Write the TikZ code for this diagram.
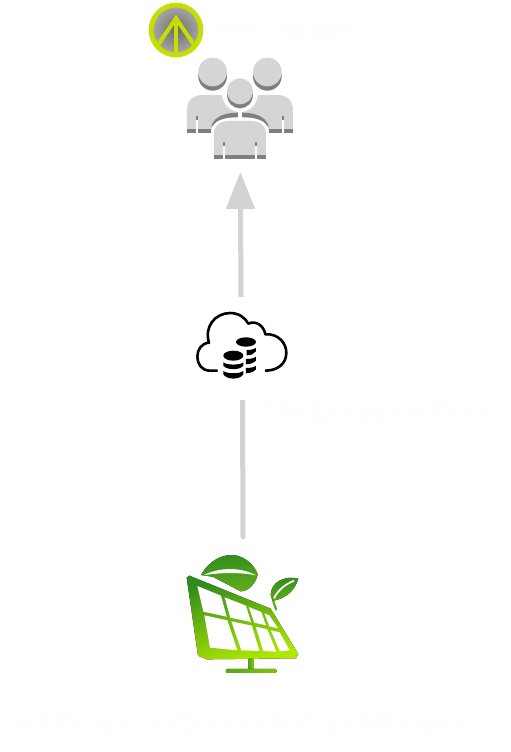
\documentclass[tikz,border=0pt]{standalone}
\usepackage{fontspec}
\setmainfont{Liberation Sans}
\usetikzlibrary{arrows.meta}
\definecolor{conn}{HTML}{D3D3D3}
\definecolor{bodygray}{HTML}{D4D5D5}
\definecolor{shadowgray}{HTML}{7F7F7F}
\definecolor{lime}{HTML}{C6DE00}
\definecolor{faint}{HTML}{FEFEFE}
\definecolor{gdark}{HTML}{2F8A1E}
\definecolor{gmid}{HTML}{5FAE1A}
\definecolor{glime}{HTML}{B0E800}
\tikzset{
  faintlabel/.style={text=faint,font=\fontsize{28.5}{30}\selectfont,anchor=base west,inner sep=0pt},
  connector/.style={conn,line width=5pt},
  iconanchor/.style={inner sep=0pt,minimum size=1pt},
  cell/.style={fill=white},
  panelgreen/.style={left color=gdark,middle color=gmid,right color=glime,shading angle=15},
  leafgreen/.style={left color=gdark,right color=gmid,shading angle=10},
  standgreen/.style={left color=gmid!80!gdark,right color=gmid!60!glime}
}
\begin{document}
\begin{tikzpicture}[x=1pt,y=-1pt]
\useasboundingbox[fill=white] (0,0) rectangle (511,752);
% labels
\node[faintlabel] (holder) at (214,38.5) {AIP Holder};
\node[faintlabel] (donation) at (262,421) {1\% Donation Pool};
\node[faintlabel,font=\fontsize{29.8}{31}\selectfont] (projects) at (14,733) {All Projects Connected to AIPower};
% badge
\begin{scope}[shift={(130,0)},x=0.3333pt,y=-0.3333pt]
\fill[lime] (138,90) circle[radius=82];
\shade[inner color=black!58,outer color=black!36] (138,90) circle[radius=67];
\begin{scope}
\clip (138,90) circle[radius=68];
\draw[lime,line width=4pt,line join=miter] (74,149) -- (138,55) -- (202,149);
\draw[lime,line width=4pt] (138,60) -- (138,160);
\end{scope}
\end{scope}
% people
\begin{scope}[shift={(130,0)},x=0.3333pt,y=-0.3333pt]
\foreach \cx in {248,412}{
  \fill[shadowgray] (\cx,229) circle[radius=43];
  \fill[bodygray] (\cx,216) circle[radius=43];
}
% back bodies
\fill[bodygray] (171,387) -- (171,330) .. controls (171,300) and (190,285) .. (220,285)
  -- (440,285) .. controls (470,285) and (489,300) .. (489,330) -- (489,387) -- cycle;
\fill[shadowgray] (171,387) rectangle (489,398);
\fill[white] (198,348) rectangle (204,398);
\fill[shadowgray] (198,348) rectangle (204,360);
\fill[white] (456,348) rectangle (462,398);
\fill[shadowgray] (456,348) rectangle (462,360);
% ring around centre head
\fill[white] (330,283) circle[radius=53];
\fill[shadowgray] (330,286) circle[radius=39];
\fill[bodygray] (330,274) circle[radius=39];
% crescents
\fill[shadowgray] (245,398) -- (245,375) .. controls (255,350) and (285,338) .. (324,338)
  -- (324,352) -- (336,352) -- (336,338) .. controls (375,338) and (405,350) .. (415,375) -- (415,398) -- cycle;
\fill[white] (324,335) rectangle (336,362);
\fill[white] (240,480) -- (244,385) .. controls (255,362) and (280,352) .. (324,352)
  -- (336,352) .. controls (380,352) and (405,362) .. (416,385) -- (420,480) -- cycle;
% front body
\fill[bodygray] (252,465) -- (252,400) .. controls (252,378) and (270,363) .. (295,363)
  -- (365,363) .. controls (390,363) and (408,378) .. (408,400) -- (408,465) -- cycle;
\fill[shadowgray] (252,465) rectangle (408,476);
\fill[white] (279,427) rectangle (285,476);
\fill[shadowgray] (279,427) rectangle (285,438);
\fill[white] (375,427) rectangle (381,476);
\fill[shadowgray] (375,427) rectangle (381,438);
\end{scope}
% cloud
\begin{scope}[shift={(180,290)},x=0.3333pt,y=-0.3333pt]
\draw[black,line width=2.6pt,line cap=butt,line join=round]
  (113,242) -- (90,242) .. controls (65,242) and (52,222) .. (52,200)
  .. controls (52,178) and (65,160) .. (87,158)
  .. controls (72,110) and (105,70) .. (150,69)
  .. controls (175,69) and (195,82) .. (205,101)
  .. controls (228,90) and (252,108) .. (256,133)
  .. controls (295,130) and (320,160) .. (319,190)
  .. controls (318,220) and (295,242) .. (255,242);
% right stack
\fill[black] (198,156) ellipse[x radius=30,y radius=14];
\fill[black] (200,180) .. controls (212,180) and (222,178) .. (228,174) -- (228,184)
  .. controls (222,192) and (212,196) .. (200,196) -- cycle;
\fill[black] (198,207) .. controls (212,207) and (222,205) .. (228,200) -- (228,211)
  .. controls (222,219) and (212,222) .. (198,223) -- cycle;
\fill[black] (198,234) .. controls (212,234) and (222,232) .. (228,227) -- (228,238)
  .. controls (222,245) and (212,249) .. (198,250) -- cycle;
% left stack
\fill[black] (160,197) ellipse[x radius=30,y radius=15];
\fill[black] (130,217) .. controls (140,226) and (180,226) .. (190,217) -- (190,227)
  .. controls (180,241) and (140,241) .. (130,227) -- cycle;
\fill[black] (130,243) .. controls (140,252) and (180,252) .. (190,243) -- (190,253)
  .. controls (180,270) and (140,270) .. (130,253) -- cycle;
\end{scope}
% solar panel
\begin{scope}[shift={(170,530)},x=0.3333pt,y=-0.3333pt]
% big leaf
\fill[leafgreen] (93,135) .. controls (115,95) and (160,65) .. (205,78)
  .. controls (235,88) and (255,110) .. (263,133)
  .. controls (258,160) and (235,185) .. (212,184)
  -- (128,140) -- cycle;
\fill[white] (100,136) .. controls (150,110) and (215,112) .. (258,136)
  .. controls (215,127) and (150,127) .. (100,136) -- cycle;
% small leaf
\draw[gmid,line width=2.2pt] (319,240) .. controls (314,225) and (308,212) .. (306,195);
\fill[leafgreen] (385,146) .. controls (345,136) and (303,155) .. (302,195)
  -- (310,212) .. controls (350,205) and (375,180) .. (385,146) -- cycle;
\draw[white,line width=1.7pt] (312,205) .. controls (325,178) and (348,162) .. (372,152);
% panel
\fill[panelgreen] (50,143) -- (58,137) -- (302,236) -- (385,372) -- (378,385) -- (110,388) -- (84,377) -- cycle;
\fill[cell] (82,168) -- (153,197) -- (170,260) -- (100,245) -- cycle;
\fill[cell] (164,202) -- (228,227) -- (243,276) -- (181,263) -- cycle;
\fill[cell] (236,231) -- (274,246) -- (288,286) -- (253,278) -- cycle;
\fill[cell] (283,250) -- (298,256) -- (324,295) -- (298,289) -- cycle;
\fill[cell] (103,256) -- (172,271) -- (202,361) -- (120,353) -- cycle;
\fill[cell] (184,274) -- (246,287) -- (268,363) -- (214,361) -- cycle;
\fill[cell] (257,290) -- (292,298) -- (319,365) -- (280,363) -- cycle;
\fill[cell] (302,301) -- (329,307) -- (359,361) -- (330,364) -- cycle;
% stand
\fill[standgreen] (236,385) rectangle (250,418);
\fill[standgreen,rounded corners=1.2pt] (168,417) rectangle (320,429);
\end{scope}
% invisible anchors
\node[iconanchor] (people) at (240.3,172) {};
\node[iconanchor] (cloud) at (241,297) {};
\node[iconanchor] (cloudlow) at (242.5,400) {};
\node[iconanchor] (solar) at (243,537) {};
% connectors
\draw[connector,-{Triangle[length=37pt,width=28pt]}] (cloud.center) -- (people.center);
\draw[connector] (cloudlow.center) -- (solar.center);
\fill[conn] (solar.center) circle[radius=2.5pt];
\end{tikzpicture}
\end{document}
